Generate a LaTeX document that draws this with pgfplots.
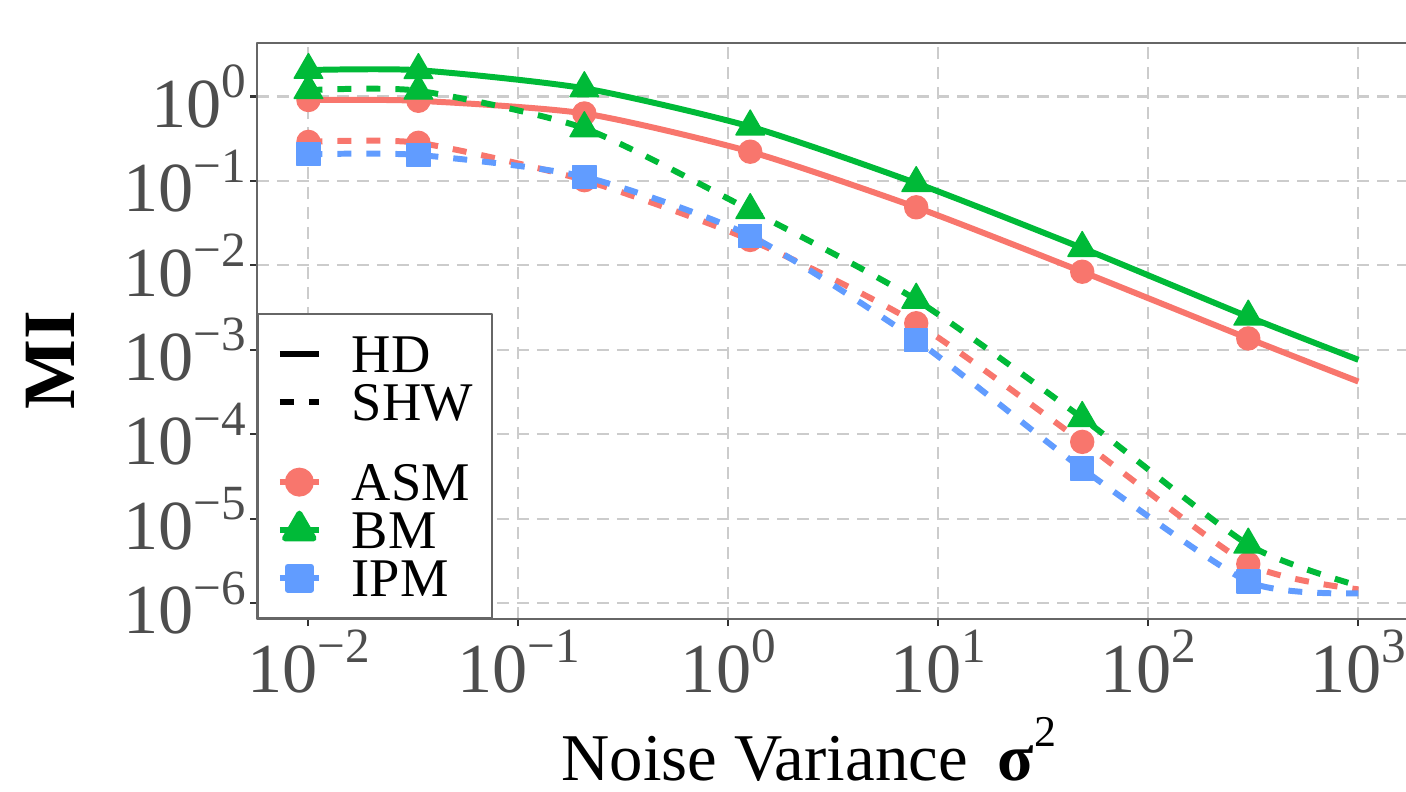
\documentclass[border=0pt]{standalone}
\usepackage{fontspec}
\setmainfont{Liberation Serif}
\usepackage{pgfplots}
\pgfplotsset{compat=1.18}
\definecolor{cASM}{HTML}{F8766D}
\definecolor{cBM}{HTML}{00BA38}
\definecolor{cIPM}{HTML}{619CFF}
\definecolor{gridc}{HTML}{CCCCCC}
\definecolor{framec}{HTML}{666666}
\definecolor{tickc}{HTML}{4D4D4D}
\newcommand{\tp}[1]{10\raisebox{0.42em}{\fontsize{14pt}{14pt}\selectfont #1}}

\begin{document}
\begin{tikzpicture}
\useasboundingbox (0,0) rectangle (140.6mm,79.1mm);
\begin{axis}[
  at={(25.7mm,17.2mm)}, anchor=south west,
  scale only axis, width=115.2mm, height=57.6mm,
  xmode=log, ymode=log,
  xmin=0.005689, xmax=1741.8, ymin=6.457e-7, ymax=4.305,
  axis line style={framec, line width=0.6pt},
  xtick={1e-2,1e-1,1,10,100,1000},
  xticklabels={\tp{−2},\tp{−1},\tp{0},\tp{1},\tp{2},\tp{3}},
  ytick={1e-6,1e-5,1e-4,1e-3,1e-2,1e-1,1},
  yticklabels={\tp{−6},\tp{−5},\tp{−4},\tp{−3},\tp{−2},\tp{−1},\tp{0}},
  xminorticks=false, yminorticks=false,
  tick align=outside, xtick pos=left, ytick pos=left,
  major tick length=0.7mm,
  tick style={color=black!80, line width=0.6pt},
  grid=major,
  major grid style={gridc, line width=0.6pt, dash pattern=on 1.2mm off 0.8mm},
  ticklabel style={font=\fontsize{20pt}{20pt}\selectfont, text=tickc},
  xticklabel style={anchor=base, yshift=-6.6mm},
  yticklabel style={anchor=east, inner sep=0pt, xshift=-0.3mm},
  xlabel={Noise Variance\hspace{0.45em}\textbf{σ}\raisebox{0.5em}{\fontsize{12.5pt}{12.5pt}\selectfont 2}},
  xlabel style={at={(axis description cs:0.479,0)}, anchor=base, yshift=-16.1mm,
    font=\fontsize{19pt}{19pt}\selectfont},
  ylabel={\textbf{MI}},
  ylabel style={at={(axis description cs:-0.158,0.45)}, anchor=base,
    font=\fontsize{21pt}{21pt}\selectfont},
  legend style={at={(0,0)}, anchor=south west, draw=framec, line width=0.5pt,
    fill=white, inner xsep=1.9mm, inner ysep=1.6mm, row sep=0pt, column sep=3.0mm,
    nodes={inner sep=0pt, text height=4.2mm, text depth=0.6mm,
      font=\fontsize{15.5pt}{15.5pt}\selectfont}},
  legend cell align=left,
  legend image code/.code={\draw[mark repeat=2,mark phase=2] plot coordinates {(0mm,0mm) (1.95mm,0mm) (3.9mm,0mm)};},
  line join=round,
]
% legend
\addlegendimage{black, line width=1.7pt, solid}
\addlegendentry{HD}
\addlegendimage{black, line width=1.7pt, dash pattern=on 1.4mm off 1.5mm}
\addlegendentry{SHW}
\addlegendimage{empty legend}
\addlegendentry[text height=3.2mm, text depth=0mm]{}
\addlegendimage{cASM, line width=1.7pt, solid, mark=*, mark size=1.15mm, mark options={solid}}
\addlegendentry{ASM}
\addlegendimage{cBM, line width=1.7pt, solid, mark=triangle*, mark size=1.65mm, mark options={solid}}
\addlegendentry{BM}
\addlegendimage{cIPM, line width=1.7pt, solid, mark=square*, mark size=1.15mm, mark options={solid}}
\addlegendentry{IPM}

% lines
\addplot[cASM, line width=1.7pt, smooth, tension=0.4, forget plot] coordinates {
  (0.01,0.91) (0.0334,0.89) (0.206,0.63) (1.27,0.222) (7.84,0.0487)
  (48.4,0.0084) (299,0.00136) (1000,0.00042)};
\addplot[cASM, line width=1.7pt, smooth, tension=0.4, dash pattern=on 1.4mm off 1.5mm, forget plot] coordinates {
  (0.01,0.29) (0.0334,0.283) (0.206,0.102) (1.27,0.020) (7.84,0.00206)
  (48.4,8.1e-5) (299,2.9e-6) (1000,1.45e-6)};
\addplot[cBM, line width=1.7pt, smooth, tension=0.4, forget plot] coordinates {
  (0.01,2.06) (0.0334,2.05) (0.206,1.25) (1.27,0.44) (7.84,0.094)
  (48.4,0.016) (299,0.00246) (1000,0.00076)};
\addplot[cBM, line width=1.7pt, smooth, tension=0.4, dash pattern=on 1.4mm off 1.5mm, forget plot] coordinates {
  (0.01,1.19) (0.0334,1.17) (0.206,0.42) (1.27,0.045) (7.84,0.0039)
  (48.4,1.55e-4) (299,4.9e-6) (1000,1.6e-6)};
\addplot[cIPM, line width=1.7pt, smooth, tension=0.4, dash pattern=on 1.4mm off 1.5mm, forget plot] coordinates {
  (0.01,0.207) (0.0334,0.203) (0.206,0.112) (1.27,0.0224) (7.84,0.0013)
  (48.4,3.9e-5) (299,1.79e-6) (1000,1.3e-6)};

% markers
\addplot[only marks, mark=*, mark size=1.15mm, cASM, forget plot] coordinates {
  (0.01,0.91) (0.0334,0.89) (0.206,0.63) (1.27,0.222) (7.84,0.0487) (48.4,0.0084) (299,0.00136)};
\addplot[only marks, mark=*, mark size=1.15mm, cASM, forget plot] coordinates {
  (0.01,0.29) (0.0334,0.283) (0.206,0.102) (1.27,0.020) (7.84,0.00206) (48.4,8.1e-5) (299,2.9e-6)};
\addplot[only marks, mark=triangle*, mark size=1.65mm, cBM, forget plot] coordinates {
  (0.01,2.06) (0.0334,2.05) (0.206,1.25) (1.27,0.44) (7.84,0.094) (48.4,0.016) (299,0.00246)};
\addplot[only marks, mark=triangle*, mark size=1.65mm, cBM, forget plot] coordinates {
  (0.01,1.19) (0.0334,1.17) (0.206,0.42) (1.27,0.045) (7.84,0.0039) (48.4,1.55e-4) (299,4.9e-6)};
\addplot[only marks, mark=square*, mark size=1.15mm, cIPM, forget plot] coordinates {
  (0.01,0.207) (0.0334,0.203) (0.206,0.112) (1.27,0.0224) (7.84,0.0013) (48.4,3.9e-5) (299,1.79e-6)};
\end{axis}
\end{tikzpicture}
\end{document}
